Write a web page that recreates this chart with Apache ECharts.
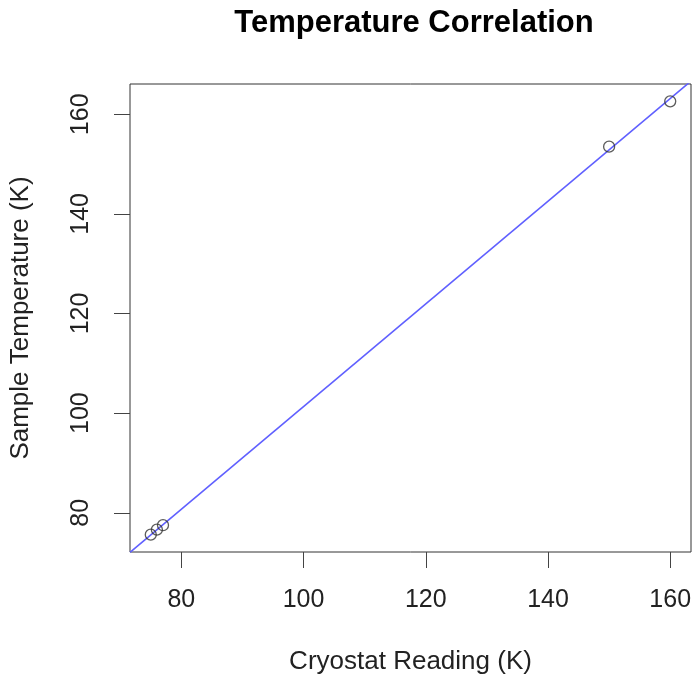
<!DOCTYPE html>
<html>
<head>
<meta charset="utf-8">
<script src="https://cdn.jsdelivr.net/npm/echarts@6/dist/echarts.min.js"></script>
<style>
html,body{margin:0;padding:0;background:#fff;}
#c{width:695px;height:681px;}
</style>
</head>
<body>
<div id="c"></div>
<script>
// Data
var cryostatReading = [75, 76, 77, 150, 160];
var sampleTemperature = [75.6, 76.6, 77.5, 153.5, 162.6];
var xTicks = [80, 100, 120, 140, 160];
var yTicks = [80, 100, 120, 140, 160];
var titleText = 'Temperature Correlation';
var xLabel = 'Cryostat Reading (K)';
var yLabel = 'Sample Temperature (K)';

// R-style axis ranges (4% padding)
function pad(arr){
  var mn = Math.min.apply(null, arr), mx = Math.max.apply(null, arr);
  var r = mx - mn;
  return [mn - 0.04*r, mx + 0.04*r];
}
var xr = pad(cryostatReading), yr = pad(sampleTemperature);

// Linear fit
var n = cryostatReading.length, sx=0, sy=0, sxx=0, sxy=0;
for (var i=0;i<n;i++){ sx+=cryostatReading[i]; sy+=sampleTemperature[i]; }
var mx = sx/n, my = sy/n;
for (var i=0;i<n;i++){ sxx += (cryostatReading[i]-mx)*(cryostatReading[i]-mx); sxy += (cryostatReading[i]-mx)*(sampleTemperature[i]-my); }
var slope = sxy/sxx, icpt = my - slope*mx;
var fitLine = [[xr[0], icpt + slope*xr[0]], [xr[1], icpt + slope*xr[1]]];

var points = cryostatReading.map(function(x,i){ return [x, sampleTemperature[i]]; });

var FONT = 'Liberation Sans, Arial, Helvetica, sans-serif';
var chart = echarts.init(document.getElementById('c'), null, {renderer:'canvas'});
chart.setOption({
  animation: false,
  backgroundColor: '#ffffff',
  title: {
    text: titleText,
    left: 409, top: 3, textAlign: 'center',
    textStyle: {fontFamily: FONT, fontSize: 31, fontWeight: 'bold', color: '#000'}
  },
  grid: {left: 128, right: 4, top: 84, bottom: 129, show: true, borderColor: '#333', borderWidth: 1, containLabel: false},
  xAxis: {
    type: 'value', min: xr[0], max: xr[1],
    name: xLabel, nameLocation: 'middle', nameGap: 97,
    nameTextStyle: {fontFamily: FONT, fontSize: 26, color: '#222'},
    axisLine: {show: false},
    axisTick: {show: true, length: 16, customValues: xTicks, lineStyle: {color: '#444'}},
    axisLabel: {customValues: xTicks, margin: 36, fontFamily: FONT, fontSize: 25, color: '#222'},
    splitLine: {show: false}
  },
  yAxis: {
    type: 'value', min: yr[0], max: yr[1],
    name: yLabel, nameLocation: 'middle', nameGap: 96, nameRotate: 90,
    nameTextStyle: {fontFamily: FONT, fontSize: 26, color: '#222'},
    axisLine: {show: false},
    axisTick: {show: true, length: 16, customValues: yTicks, lineStyle: {color: '#444'}},
    axisLabel: {customValues: yTicks, rotate: 90, margin: 36, fontFamily: FONT, fontSize: 25, color: '#222'},
    splitLine: {show: false}
  },
  series: [
    {
      type: 'line', data: fitLine, symbol: 'none', clip: true,
      lineStyle: {color: '#6060ff', width: 1.6}, z: 2
    },
    {
      type: 'scatter', data: points, symbol: 'circle', symbolSize: 11,
      itemStyle: {color: 'rgba(0,0,0,0)', borderColor: '#333', borderWidth: 1.3}, z: 3
    }
  ]
});
</script>
</body>
</html>
